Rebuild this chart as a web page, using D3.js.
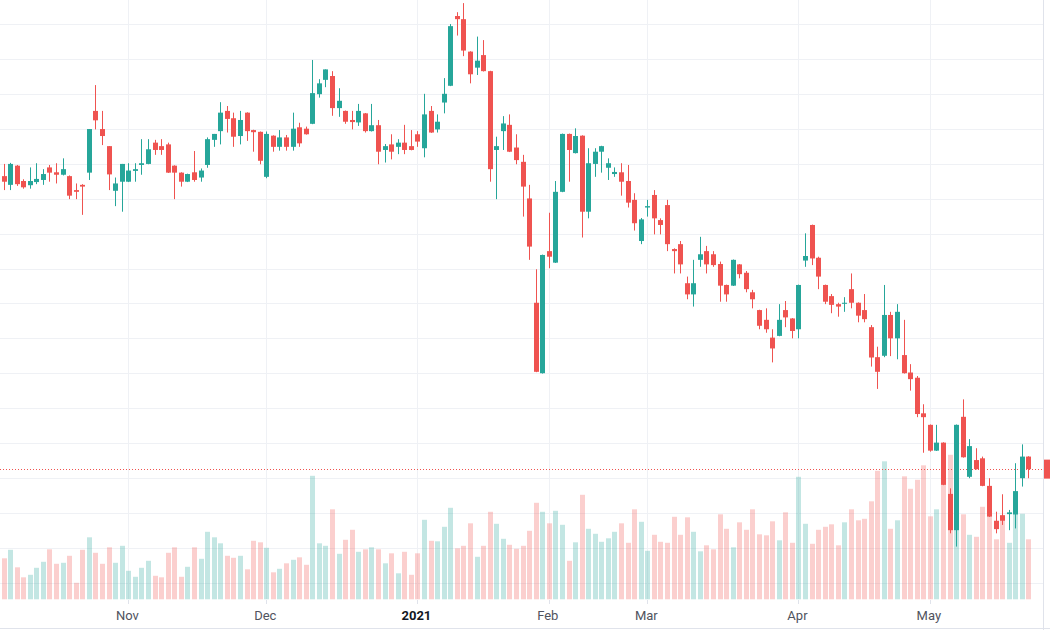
<!DOCTYPE html>
<html><head><meta charset="utf-8">
<script src="https://cdn.jsdelivr.net/npm/d3@7"></script>
<style>html,body{margin:0;padding:0;background:#fff;overflow:hidden}</style>
</head><body><svg id="c" width="1050" height="630"></svg>
<script>
// ---- data (daily bars, index 0..156) ----
const opens = [
20.65,20.40,20.95,20.51,20.39,20.48,20.54,20.90,20.76,20.69,
20.65,20.25,20.40,20.75,22.52,22.00,21.51,20.23,20.49,20.49,
20.80,20.97,21.00,21.61,21.51,21.56,20.95,20.75,20.49,20.76,
20.61,20.97,21.69,21.94,22.52,22.31,21.80,22.47,21.97,21.92,
20.63,21.81,21.49,21.76,21.49,22.05,22.01,22.15,23.00,23.41,
23.52,22.60,22.52,22.26,22.19,22.45,21.94,22.11,21.40,21.56,
21.49,21.61,21.51,21.85,21.45,22.52,21.99,22.76,23.24,25.24,
25.15,24.22,23.76,24.12,23.66,21.40,21.94,22.12,21.47,21.06,
20.01,17.02,15.00,18.50,18.17,20.20,21.86,21.31,21.81,19.63,
21.00,21.35,20.89,20.71,20.76,20.51,19.97,18.79,19.75,20.11,
19.39,19.82,18.56,18.70,17.58,17.26,18.25,18.50,18.41,18.13,
17.53,17.51,18.12,17.88,17.32,16.81,16.53,16.02,16.07,16.81,
16.57,16.26,18.23,19.25,18.31,17.53,17.21,16.98,16.99,17.41,
17.02,16.81,16.32,15.46,15.50,16.67,16.00,15.52,15.02,14.87,
13.85,13.52,12.78,13.01,11.54,10.50,13.75,12.03,12.51,12.56,
11.77,10.77,10.93,10.96,10.95,11.99,12.61];
const highs = [
21.00,21.03,20.97,20.56,20.90,21.02,20.85,20.97,21.02,21.16,
20.67,20.44,20.42,22.00,23.26,22.52,21.51,20.61,21.00,21.02,
21.02,21.71,21.71,21.69,21.71,21.61,20.96,20.76,20.72,21.37,
20.87,21.76,21.86,22.77,22.66,22.47,22.52,22.48,21.98,21.93,
21.93,21.82,21.97,21.83,22.47,22.18,22.07,23.98,23.43,23.71,
23.66,23.17,22.53,22.52,22.72,22.46,22.72,22.26,21.57,21.85,
21.71,22.12,21.97,21.94,23.01,22.66,22.42,23.46,25.01,25.35,
25.61,24.23,24.65,24.55,23.67,21.78,22.37,22.42,21.85,21.26,
20.40,17.98,18.40,19.60,20.51,21.87,21.87,22.02,21.82,21.45,
21.45,21.52,21.16,20.90,21.02,20.97,20.16,19.45,19.97,20.25,
19.44,19.97,18.58,18.79,17.77,18.25,18.91,18.65,18.50,18.20,
17.54,18.26,18.13,17.93,17.39,16.82,16.86,16.26,16.98,17.07,
16.58,17.54,19.01,19.26,18.34,17.54,17.27,17.02,17.18,17.86,
17.03,17.27,16.38,15.76,17.53,16.76,16.98,16.53,15.26,14.92,
14.11,13.53,13.52,13.02,11.70,13.53,14.25,13.11,12.85,12.61,
11.99,11.03,11.53,11.08,12.42,12.96,12.62];
const lows = [
20.25,20.25,20.37,20.29,20.29,20.42,20.40,20.49,20.44,20.67,
19.99,19.99,19.54,20.54,21.99,21.54,20.25,19.79,19.63,20.48,
20.49,20.69,20.99,21.26,21.26,20.74,19.99,20.35,20.48,20.49,
20.49,20.89,21.49,21.56,21.90,21.49,21.56,21.66,21.35,20.99,
20.59,21.35,21.38,21.38,21.38,21.49,21.84,22.14,22.90,23.20,
22.38,22.35,22.15,21.99,22.09,21.90,21.93,20.99,21.04,21.13,
21.28,21.28,21.39,21.49,21.19,21.89,21.90,22.45,23.23,24.68,
24.09,23.31,23.55,23.65,20.49,19.99,21.40,21.34,20.99,19.49,
18.25,15.03,14.99,18.01,18.16,20.19,20.49,21.30,18.89,19.44,
20.63,20.75,20.54,20.63,20.09,19.75,19.09,18.70,19.49,18.98,
18.98,18.50,17.86,17.86,17.12,16.91,18.05,17.86,18.05,17.05,
17.05,17.50,17.72,17.32,16.86,16.26,16.16,15.31,16.06,16.32,
16.00,16.00,18.05,18.10,17.41,16.98,16.72,16.62,16.76,16.86,
16.46,16.46,15.19,14.55,15.46,15.49,15.40,14.99,14.50,13.74,
12.72,12.75,12.77,11.79,10.41,10.03,12.58,11.99,12.24,11.76,
10.88,10.41,10.65,10.50,10.55,11.75,11.99];
const closes = [
20.49,21.00,20.42,20.33,20.51,20.57,20.71,20.75,20.69,20.85,
20.09,20.20,20.35,22.00,22.25,21.80,20.70,20.44,21.00,20.81,
20.85,21.02,21.42,21.40,21.40,20.75,20.75,20.49,20.71,20.54,
20.81,21.71,21.86,22.47,22.29,21.78,22.26,21.94,21.91,21.09,
21.86,21.49,21.76,21.49,22.01,21.59,21.85,23.03,23.31,23.71,
22.60,22.81,22.21,22.20,22.52,21.94,22.11,21.35,21.51,21.35,
21.61,21.40,21.40,21.64,22.42,21.90,22.21,23.01,24.95,25.15,
24.25,23.57,23.96,23.66,20.85,21.51,22.16,21.35,21.11,20.35,
18.63,15.04,18.39,18.34,20.20,21.86,21.40,21.80,19.63,21.02,
21.35,21.51,21.02,20.77,20.49,19.89,19.30,19.41,19.79,19.44,
19.25,18.70,18.50,18.12,17.26,17.58,18.41,18.12,18.10,17.51,
17.26,18.25,17.84,17.41,17.12,16.36,16.26,15.71,16.53,16.60,
16.21,17.53,18.36,18.29,17.77,17.05,16.96,16.91,17.02,17.02,
16.65,16.55,15.45,15.04,16.67,16.00,16.76,15.00,14.83,13.83,
13.74,12.78,13.01,11.80,10.50,13.52,12.59,12.91,12.25,11.77,
10.89,10.53,10.77,11.01,11.62,12.61,12.25];
const volumes = [
8.2,9.9,6.4,4.4,4.9,6.3,7.5,10.0,7.1,7.3,
8.7,3.3,9.9,12.4,9.3,7.1,10.4,7.3,10.7,5.7,
4.5,6.3,7.7,4.7,4.4,9.3,10.4,4.5,6.5,10.4,
8.1,13.5,12.4,11.2,8.7,8.3,8.7,6.0,11.7,11.4,
10.3,5.4,6.1,7.2,7.9,8.4,6.9,24.7,11.2,10.7,
18.0,9.1,11.9,13.9,9.5,10.0,10.4,10.0,7.2,9.2,
5.2,9.5,4.9,9.2,15.9,11.7,11.6,14.5,18.3,10.2,
10.7,15.2,8.5,10.7,17.5,15.1,12.1,10.9,10.1,10.7,
13.7,19.3,17.5,15.2,17.7,14.9,7.7,11.4,20.9,14.1,
13.1,11.5,12.2,13.5,15.2,11.3,18.0,15.5,9.7,12.9,
11.5,11.3,16.5,12.9,16.4,13.5,9.6,10.8,10.0,17.0,
14.1,10.4,15.4,13.9,18.0,13.0,12.8,15.6,11.8,17.4,
11.3,24.5,15.1,11.1,13.9,14.5,15.0,10.8,15.4,18.0,
15.8,16.1,19.6,25.7,27.6,14.1,15.8,24.6,22.1,23.9,
26.8,16.6,18.0,25.8,28.9,20.0,17.0,12.9,12.5,18.5,
19.7,12.0,16.4,11.3,20.9,17.1,12.0];
const tickIndex  = [19, 40, 63, 83, 98, 121, 141];
const tickLabels = ["Nov", "Dec", "2021", "Feb", "Mar", "Apr", "May"];
const priceGrid  = [9,10,11,12,13,14,15,16,17,18,19,20,21,22,23,24,25];

// ---- drawing ----
const UP = "#26a69a", DOWN = "#ef5350";
const UPV = "rgba(38,166,154,0.28)", DOWNV = "rgba(239,83,80,0.28)";
const GRID = "#eff1f5";
const axisX = 1043;
const svg = d3.select("#c");
svg.append("rect").attr("width",1050).attr("height",630).attr("fill","#fff");

const n = opens.length;
const bars = d3.range(n).map(i => ({i, o:opens[i], h:highs[i], l:lows[i], c:closes[i], v:volumes[i]}));
const x = d3.scaleLinear().domain([0, n-1]).range([3.5, 1028.4]);
const y = d3.scaleLinear().domain([9, 25]).range([582.5, 24.4]);
const yv = d3.scaleLinear().domain([0, 30]).range([599.3, 449.3]);
const px = i => Math.round(x(i)) + 0.5;

// horizontal grid
svg.append("g").selectAll("line").data(priceGrid).join("line")
  .attr("x1", 0).attr("x2", axisX)
  .attr("y1", d => Math.round(y(d)) + 0.5).attr("y2", d => Math.round(y(d)) + 0.5)
  .attr("stroke", GRID).attr("stroke-width", 1);
// vertical grid
svg.append("g").selectAll("line").data(tickIndex).join("line")
  .attr("x1", d => px(d)).attr("x2", d => px(d))
  .attr("y1", 0).attr("y2", 599)
  .attr("stroke", GRID).attr("stroke-width", 1);

// volume
svg.append("g").selectAll("rect").data(bars).join("rect")
  .attr("x", d => Math.round(x(d.i)) - 2)
  .attr("width", 5)
  .attr("y", d => yv(d.v))
  .attr("height", d => yv(0) - yv(d.v))
  .attr("fill", d => d.c >= d.o ? UPV : DOWNV);

// last price dotted line
const last = closes[n-1];
svg.append("line")
  .attr("x1", 0).attr("x2", axisX)
  .attr("y1", Math.round(y(last)) + 0.5).attr("y2", Math.round(y(last)) + 0.5)
  .attr("stroke", DOWN).attr("stroke-width", 1).attr("stroke-dasharray", "1,2");

// candles
const cg = svg.append("g").selectAll("g").data(bars).join("g");
cg.append("line")
  .attr("x1", d => px(d.i)).attr("x2", d => px(d.i))
  .attr("y1", d => y(d.h)).attr("y2", d => y(d.l))
  .attr("stroke", d => d.c >= d.o ? UP : DOWN).attr("stroke-width", 1);
cg.append("rect")
  .attr("x", d => Math.round(x(d.i)) - 2)
  .attr("width", 5)
  .attr("y", d => y(Math.max(d.o, d.c)))
  .attr("height", d => Math.max(1, Math.abs(y(d.o) - y(d.c))))
  .attr("fill", d => d.c >= d.o ? UP : DOWN);

// right price axis edge + last price marker
svg.append("rect").attr("x", axisX).attr("y", 0).attr("width", 1050-axisX).attr("height", 630).attr("fill", "#fff");
svg.append("line").attr("x1", axisX+0.5).attr("x2", axisX+0.5).attr("y1", 0).attr("y2", 630)
  .attr("stroke", "#e0e3eb");
svg.append("rect").attr("x", axisX+1).attr("y", y(last) - 9.5).attr("width", 60).attr("height", 19)
  .attr("fill", DOWN);

// time axis
svg.append("rect").attr("x", 0).attr("y", 600).attr("width", axisX).attr("height", 30).attr("fill", "#fff");
svg.append("line").attr("x1", 0).attr("x2", 1050).attr("y1", 628.5).attr("y2", 628.5).attr("stroke", "#e0e3eb");
svg.append("g").selectAll("line").data(tickIndex).join("line")
  .attr("x1", d => px(d)).attr("x2", d => px(d)).attr("y1", 600).attr("y2", 604)
  .attr("stroke", "#e0e3eb");
svg.append("g").selectAll("text").data(tickIndex).join("text")
  .attr("x", d => x(d) - 1).attr("y", 620)
  .attr("text-anchor", "middle")
  .attr("font-family", "Roboto, 'Open Sans', sans-serif")
  .attr("font-size", 13)
  .attr("font-weight", (d, k) => /^\d{4}$/.test(tickLabels[k]) ? "bold" : "normal")
  .attr("fill", (d, k) => /^\d{4}$/.test(tickLabels[k]) ? "#131722" : "#50535e")
  .text((d, k) => tickLabels[k]);
</script></body></html>
